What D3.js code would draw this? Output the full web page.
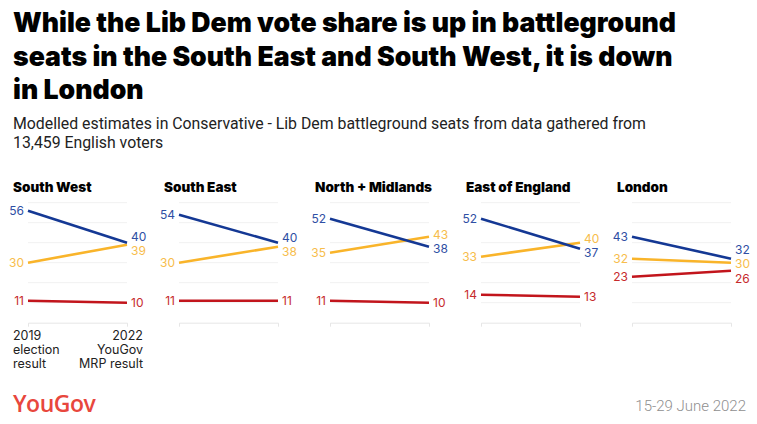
<!DOCTYPE html>
<html>
<head>
<meta charset="utf-8">
<script src="https://cdn.jsdelivr.net/npm/d3@7"></script>
<style>
  html, body { margin: 0; padding: 0; background: #fff; }
  svg { display: block; }
</style>
</head>
<body>
<svg id="chart" width="757" height="424"></svg>
<script>
// ---- Data ----
const regions = ["South West", "South East", "North + Midlands", "East of England", "London"];
const years = ["2019", "2022"];
const con2019 = [56, 54, 52, 52, 43];
const con2022 = [40, 40, 38, 37, 32];
const ld2019 = [30, 30, 35, 33, 32];
const ld2022 = [39, 38, 43, 40, 30];
const lab2019 = [11, 11, 11, 14, 23];
const lab2022 = [10, 11, 10, 13, 26];
const gridTicks = [10, 20, 30, 40, 50, 60];
const titleLines = [
  "While the Lib Dem vote share is up in battleground",
  "seats in the South East and South West, it is down",
  "in London"
];
const subtitleLines = [
  "Modelled estimates in Conservative - Lib Dem battleground seats from data gathered from",
  "13,459 English voters"
];
const leftAxisLabel = ["2019", "election", "result"];
const rightAxisLabel = ["2022", "YouGov", "MRP result"];
const dateText = "15-29 June 2022";

const series = [
  { key: "lab", v0: lab2019, v1: lab2022, line: "#c2151c", text: "#c62a2c" },
  { key: "ld",  v0: ld2019,  v1: ld2022,  line: "#f9b42a", text: "#f7bd4c" },
  { key: "con", v0: con2019, v1: con2022, line: "#143894", text: "#2f4fa4" }
];

// ---- Setup ----
const svg = d3.select("#chart");

function fitGroup(sel, target) {
  const nodes = sel.selectAll("text").nodes();
  const w0 = nodes[0].getComputedTextLength();
  const r = target / w0;
  nodes.forEach(n => {
    const w = n.getComputedTextLength();
    n.setAttribute("textLength", w * r);
    n.setAttribute("lengthAdjust", "spacingAndGlyphs");
  });
}

// Title
const title = svg.append("g");
const titleBaselines = [32, 65.5, 98.5];
titleLines.forEach((t, i) => {
  title.append("text")
    .attr("x", 13).attr("y", titleBaselines[i])
    .attr("font-family", "Inter, 'Noto Sans', sans-serif")
    .attr("font-weight", 900)
    .attr("font-size", 27.5)
    .attr("fill", "#000")
    .text(t);
});
fitGroup(title, 663);

const sub = svg.append("g");
const subBaselines = [129, 148];
subtitleLines.forEach((t, i) => {
  sub.append("text")
    .attr("x", 13).attr("y", subBaselines[i])
    .attr("font-family", "Roboto, 'Noto Sans', sans-serif")
    .attr("font-weight", 400)
    .attr("font-size", 16)
    .attr("fill", "#222")
    .text(t);
});
fitGroup(sub, 633);

// ---- Scales ----
const panel = d3.scaleBand().domain(regions).range([13, 13 + 151 * 5]);
const x = d3.scalePoint().domain(years).range([15, 114]);
const y = d3.scaleLinear().domain([0, 60]).range([322.7, 202.7]);

function dodge(items, gap) {
  const sorted = items.slice().sort((a, b) => a.y - b.y);
  let clusters = sorted.map(d => ({ items: [d], top: d.y }));
  let changed = true;
  while (changed) {
    changed = false;
    for (let i = 0; i < clusters.length - 1; i++) {
      const a = clusters[i], b = clusters[i + 1];
      const aBottom = a.top + (a.items.length - 1) * gap;
      if (b.top - aBottom < gap) {
        const merged = a.items.concat(b.items);
        const mean = d3.mean(merged, d => d.y);
        const top = mean - (merged.length - 1) * gap / 2;
        clusters.splice(i, 2, { items: merged, top });
        changed = true;
        break;
      }
    }
  }
  clusters.forEach(c => c.items.forEach((d, j) => d.ly = c.top + j * gap));
  return items;
}

regions.forEach((r, ri) => {
  const g = svg.append("g").attr("transform", `translate(${panel(r)},0)`);

  g.append("text")
    .attr("x", 0).attr("y", 192)
    .attr("font-family", "Inter, 'Noto Sans', sans-serif")
    .attr("font-weight", 900)
    .attr("font-size", 13.5)
    .attr("fill", "#000")
    .text(r);

  g.selectAll("line.grid").data(gridTicks).join("line")
    .attr("class", "grid")
    .attr("x1", x("2019")).attr("x2", x("2022"))
    .attr("y1", d => y(d)).attr("y2", d => y(d))
    .attr("stroke", "#f1f1f1").attr("stroke-width", 1);

  const ax = g.append("g").attr("transform", `translate(0,${y(0)})`)
    .call(d3.axisBottom(x).tickValues([]).tickSizeOuter(4));
  ax.select(".domain").attr("stroke", "#e6e6e6");

  const line = d3.line().x(d => x(d.year)).y(d => y(d.v));
  series.forEach(s => {
    const pts = [{ year: "2019", v: s.v0[ri] }, { year: "2022", v: s.v1[ri] }];
    g.append("path").datum(pts)
      .attr("d", line)
      .attr("fill", "none")
      .attr("stroke", s.line)
      .attr("stroke-width", 2.6);
  });

  years.forEach(yr => {
    const items = series.map(s => ({ s, v: yr === "2019" ? s.v0[ri] : s.v1[ri] }))
      .map(d => ({ ...d, y: y(d.v) }));
    dodge(items, 14.6);
    items.forEach(d => {
      g.append("text")
        .attr("x", yr === "2019" ? x(yr) - 4 : x(yr) + 4)
        .attr("y", d.ly)
        .attr("dy", "0.36em")
        .attr("text-anchor", yr === "2019" ? "end" : "start")
        .attr("font-family", "Inter, 'Noto Sans', sans-serif")
        .attr("font-size", 12)
        .attr("fill", d.s.text)
        .text(d.v);
    });
  });

  if (ri === 0) {
    leftAxisLabel.forEach((t, i) => {
      g.append("text").attr("x", 0).attr("y", 340 + i * 14)
        .attr("font-family", "Inter, 'Noto Sans', sans-serif")
        .attr("font-size", 12.5).attr("fill", "#222").text(t);
    });
    rightAxisLabel.forEach((t, i) => {
      g.append("text").attr("x", 130).attr("y", 340 + i * 14)
        .attr("text-anchor", "end")
        .attr("font-family", "Inter, 'Noto Sans', sans-serif")
        .attr("font-size", 12.5).attr("fill", "#222").text(t);
    });
  }
});

// footer
svg.append("text")
  .attr("x", 13).attr("y", 412)
  .attr("font-family", "'Open Sans', 'Noto Sans', sans-serif")
  .attr("font-weight", 600)
  .attr("font-size", 23)
  .attr("letter-spacing", -0.5)
  .attr("fill", "#e8473d")
  .text("YouGov");
svg.append("text")
  .attr("x", 746).attr("y", 411)
  .attr("text-anchor", "end")
  .attr("font-family", "Roboto, 'Noto Sans', sans-serif")
  .attr("font-weight", 300)
  .attr("font-size", 15)
  .attr("fill", "#8f8f8f")
  .text(dateText);
</script>
</body>
</html>
